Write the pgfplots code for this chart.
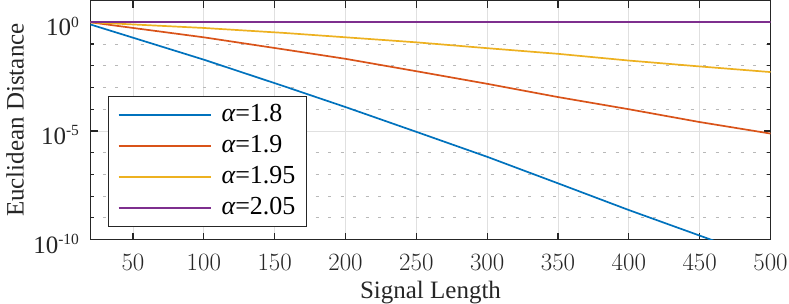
\documentclass[border=0pt]{standalone}
\usepackage{fontspec}
\setmainfont{Liberation Serif}
\usepackage{pgfplots}
\pgfplotsset{compat=1.18}
\definecolor{mblue}{RGB}{0,114,189}
\definecolor{morange}{RGB}{217,83,25}
\definecolor{myellow}{RGB}{237,177,32}
\definecolor{mpurple}{RGB}{126,47,142}
\definecolor{axc}{RGB}{38,38,38}
\newcommand{\sexp}[1]{10\raisebox{8.8pt}{\fontsize{15.5}{15.5}\selectfont #1}}
\begin{document}
\fontsize{25}{29}\selectfont
\begin{tikzpicture}
\begin{axis}[
  scale only axis, width=680pt, height=239pt,
  ymode=log, xmin=20, xmax=500, ymin=1e-10, ymax=10,
  xtick={50,100,...,500},
  ytick={1e-10,1e-5,1},
  yticklabels={\sexp{-10},\sexp{-5},\sexp{0}},
  minor ytick={1e-9,1e-8,1e-7,1e-6,1e-4,1e-3,1e-2,1e-1,10},
  xmajorgrids, ymajorgrids, yminorgrids,
  major grid style={color=black!12, line width=0.8pt},
  minor grid style={color=black!28, line width=0.9pt, dash pattern=on 3pt off 9.5pt},
  axis line style={color=axc, line width=1.2pt},
  tick style={color=axc, line width=1.2pt},
  major tick length=7pt, minor tick length=3.5pt,
  tick align=inside,
  xticklabel style={font=\fontsize{25}{29}\selectfont, anchor=base, yshift=-31pt, color=axc},
  yticklabel style={font=\fontsize{25}{29}\selectfont, anchor=base east, xshift=-3pt, yshift=-13.5pt, color=axc},
  xlabel={Signal Length},
  ylabel={Euclidean Distance},
  xlabel style={at={(axis description cs:0.5,-0.2456)}, anchor=base, color=axc},
  ylabel style={at={(axis description cs:-0.0985,0.5)}, anchor=base, rotate=0, color=axc},
  label style={font=\fontsize{25}{29}\selectfont},
  legend cell align=left,
  legend style={at={(0.026,0.0515)}, anchor=south west, draw=axc, line width=1.2pt,
    font=\fontsize{26}{30}\selectfont, inner xsep=9pt, inner ysep=6pt,
    row sep=6pt, column sep=8pt,
    nodes={inner sep=2pt, text height=17pt, text depth=4pt}},
  every axis plot/.append style={line width=1.7pt},
  clip=true,
]
\addplot[draw=mblue, forget plot] coordinates {(20,0.794) (100,1.91e-2) (157,1.12e-3) (200,1.26e-4) (250,9.12e-6) (300,6.46e-7) (350,3.89e-8) (400,2.29e-9) (460,8.9e-11) (500,1e-11)};
\addplot[draw=morange, forget plot] coordinates {(20,1.0) (100,0.204) (157,5.62e-2) (200,2.09e-2) (250,5.62e-3) (300,1.48e-3) (350,3.63e-4) (400,1e-4) (450,2.57e-5) (500,7.59e-6)};
\addplot[draw=myellow, forget plot] coordinates {(20,1.0) (100,0.55) (157,0.324) (250,0.120) (300,6.46e-2) (350,3.55e-2) (400,1.74e-2) (450,9.33e-3) (500,5.13e-3)};
\addplot[draw=mpurple, forget plot] coordinates {(20,1) (500,1)};
\addlegendimage{legend image code/.code={\draw[draw=mblue, line width=1.9pt] (0pt,0pt) -- (92pt,0pt);}}
\addlegendentry{{\itshape α}=1.8}
\addlegendimage{legend image code/.code={\draw[draw=morange, line width=1.9pt] (0pt,0pt) -- (92pt,0pt);}}
\addlegendentry{{\itshape α}=1.9}
\addlegendimage{legend image code/.code={\draw[draw=myellow, line width=1.9pt] (0pt,0pt) -- (92pt,0pt);}}
\addlegendentry{{\itshape α}=1.95}
\addlegendimage{legend image code/.code={\draw[draw=mpurple, line width=1.9pt] (0pt,0pt) -- (92pt,0pt);}}
\addlegendentry{{\itshape α}=2.05}
\coordinate (SW) at (rel axis cs:0,0);
\coordinate (NE) at (rel axis cs:1,1);
\end{axis}
\pgfresetboundingbox
\path[use as bounding box] ([shift={(-90.5pt,-64pt)}]SW) rectangle ([shift={(18.5pt,0.6pt)}]NE);
\end{tikzpicture}
\end{document}
